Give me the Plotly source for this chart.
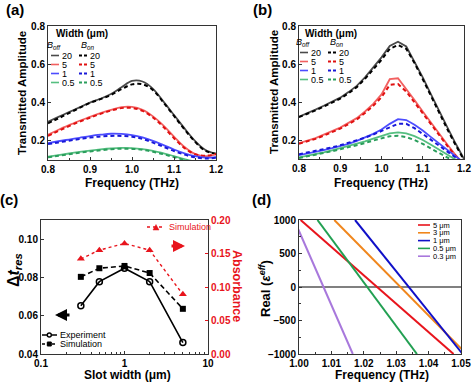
import plotly.graph_objects as go

W, H = 474, 384
FONT = "Liberation Sans, Arial, sans-serif"

# ---------------- data ----------------
# panel (a)
freq_a = [0.800, 0.825, 0.850, 0.875, 0.900, 0.925, 0.950, 0.975, 1.000,
          1.025, 1.050, 1.075, 1.100, 1.125, 1.150, 1.175, 1.200]
a_off_20 = [0.300, 0.325, 0.350, 0.375, 0.400, 0.420, 0.445, 0.480, 0.513,
            0.510, 0.472, 0.405, 0.335, 0.265, 0.200, 0.152, 0.132]
a_on_20 = [0.292, 0.318, 0.345, 0.372, 0.398, 0.418, 0.440, 0.470, 0.495,
           0.496, 0.465, 0.400, 0.330, 0.260, 0.195, 0.148, 0.132]
a_off_5 = [0.232, 0.258, 0.282, 0.305, 0.325, 0.345, 0.362, 0.376, 0.377,
           0.362, 0.328, 0.280, 0.222, 0.168, 0.132, 0.120, 0.130]
a_on_5 = [0.226, 0.252, 0.277, 0.300, 0.321, 0.341, 0.358, 0.371, 0.372,
          0.357, 0.322, 0.272, 0.214, 0.162, 0.130, 0.122, 0.132]
a_off_1 = [0.188, 0.198, 0.207, 0.216, 0.225, 0.232, 0.237, 0.236, 0.230,
           0.218, 0.200, 0.178, 0.155, 0.135, 0.120, 0.112, 0.115]
a_on_1 = [0.183, 0.192, 0.201, 0.209, 0.217, 0.223, 0.226, 0.226, 0.222,
          0.210, 0.191, 0.169, 0.147, 0.128, 0.114, 0.108, 0.112]
a_off_05 = [0.118, 0.126, 0.134, 0.142, 0.149, 0.155, 0.160, 0.163, 0.162,
            0.157, 0.148, 0.135, 0.120, 0.105, 0.092, 0.085, 0.080]
a_on_05 = [0.114, 0.122, 0.130, 0.138, 0.145, 0.151, 0.156, 0.159, 0.158,
           0.153, 0.143, 0.130, 0.115, 0.100, 0.088, 0.080, 0.075]

# panel (b)
freq_b = [0.80, 0.82, 0.84, 0.86, 0.88, 0.90, 0.92, 0.94, 0.96, 0.98, 1.00,
          1.02, 1.04, 1.06, 1.08, 1.10, 1.12, 1.14, 1.16, 1.18, 1.20]
b_off_20 = [0.323, 0.340, 0.360, 0.380, 0.400, 0.423, 0.452, 0.485, 0.530,
            0.580, 0.635, 0.695, 0.717, 0.692, 0.615, 0.530, 0.440, 0.350,
            0.265, 0.180, 0.100]
b_on_20 = [0.320, 0.337, 0.356, 0.376, 0.396, 0.418, 0.446, 0.478, 0.522,
           0.570, 0.622, 0.680, 0.700, 0.680, 0.605, 0.520, 0.430, 0.340,
           0.255, 0.172, 0.095]
b_off_5 = [0.183, 0.195, 0.210, 0.228, 0.245, 0.265, 0.290, 0.315, 0.350,
           0.390, 0.440, 0.520, 0.525, 0.470, 0.410, 0.350, 0.290, 0.230,
           0.175, 0.120, 0.070]
b_on_5 = [0.180, 0.192, 0.206, 0.223, 0.240, 0.260, 0.284, 0.308, 0.342,
          0.380, 0.425, 0.490, 0.495, 0.455, 0.398, 0.340, 0.280, 0.222,
          0.168, 0.115, 0.068]
b_off_1 = [0.120, 0.128, 0.137, 0.147, 0.157, 0.168, 0.180, 0.195, 0.212,
           0.232, 0.255, 0.285, 0.310, 0.305, 0.280, 0.250, 0.215, 0.180,
           0.145, 0.110, 0.080]
b_on_1 = [0.125, 0.133, 0.142, 0.151, 0.161, 0.172, 0.184, 0.197, 0.212,
          0.229, 0.248, 0.270, 0.285, 0.285, 0.262, 0.232, 0.200, 0.168,
          0.136, 0.104, 0.076]
b_off_05 = [0.108, 0.116, 0.125, 0.135, 0.146, 0.157, 0.168, 0.180, 0.193,
            0.207, 0.222, 0.235, 0.240, 0.235, 0.220, 0.200, 0.175, 0.148,
            0.120, 0.095, 0.070]
b_on_05 = [0.105, 0.113, 0.122, 0.131, 0.141, 0.151, 0.161, 0.172, 0.184,
           0.197, 0.210, 0.220, 0.222, 0.215, 0.200, 0.180, 0.155, 0.130,
           0.105, 0.082, 0.060]

# panel (c)
slot_width = [0.3, 0.5, 1, 2, 5]
dt_experiment = [0.0652, 0.0778, 0.0848, 0.0778, 0.0460]
dt_simulation = [0.0803, 0.0848, 0.0860, 0.0823, 0.0636]
absorbance_sim = [0.142, 0.155, 0.165, 0.155, 0.089]

# panel (d)
freq_d = {"5 μm": [1.0005, 1.0477], "3 μm": [1.0109, 1.0517],
          "1 μm": [1.0173, 1.0505], "0.5 μm": [1.0057, 1.0364],
          "0.3 μm": [0.9985, 1.0166]}
eps_d = [1000, -1000]

# ---------------- styles ----------------
col_solid = {"20": "#4a4a4a", "5": "#f26060", "1": "#4c4cff", "0.5": "#55bf80"}
col_dash = {"20": "#000000", "5": "#e01010", "1": "#1818d8", "0.5": "#2a9e5c"}
col_d = {"5 μm": "#e8141c", "3 μm": "#f0861c", "1 μm": "#1010c8",
         "0.5 μm": "#22a052", "0.3 μm": "#a878dc"}
RED = "#e8141c"


def px(x):
    return x / W


def py(y):
    return 1 - y / H


fig = go.Figure()

series_a = [("20", a_off_20, a_on_20), ("5", a_off_5, a_on_5),
            ("1", a_off_1, a_on_1), ("0.5", a_off_05, a_on_05)]
series_b = [("20", b_off_20, b_on_20), ("5", b_off_5, b_on_5),
            ("1", b_off_1, b_on_1), ("0.5", b_off_05, b_on_05)]

for k, off, on in series_a:
    fig.add_trace(go.Scatter(x=freq_a, y=off, mode="lines", xaxis="x", yaxis="y",
                             line=dict(color=col_solid[k], width=1.8, shape="spline"),
                             showlegend=False))
    fig.add_trace(go.Scatter(x=freq_a, y=on, mode="lines", xaxis="x", yaxis="y",
                             line=dict(color=col_dash[k], width=2, dash="4px,3px",
                                       shape="spline"),
                             showlegend=False))
for k, off, on in series_b:
    fig.add_trace(go.Scatter(x=freq_b, y=off, mode="lines", xaxis="x2", yaxis="y2",
                             line=dict(color=col_solid[k], width=1.8),
                             showlegend=False))
    fig.add_trace(go.Scatter(x=freq_b, y=on, mode="lines", xaxis="x2", yaxis="y2",
                             line=dict(color=col_dash[k], width=2, dash="4px,3px"),
                             showlegend=False))

# panel (c)
fig.add_trace(go.Scatter(x=slot_width, y=dt_experiment, mode="lines+markers",
                         xaxis="x3", yaxis="y3",
                         line=dict(color="black", width=1.6),
                         marker=dict(symbol="circle-open", size=6, color="black",
                                     line=dict(width=1.5)),
                         showlegend=False))
fig.add_trace(go.Scatter(x=slot_width, y=dt_simulation, mode="lines+markers",
                         xaxis="x3", yaxis="y3",
                         line=dict(color="black", width=1.6, dash="5px,3px"),
                         marker=dict(symbol="square", size=6, color="black"),
                         showlegend=False))
fig.add_trace(go.Scatter(x=slot_width, y=absorbance_sim, mode="lines+markers",
                         xaxis="x3", yaxis="y5",
                         line=dict(color=RED, width=1.4, dash="dot"),
                         marker=dict(symbol="triangle-up", size=7, color=RED),
                         showlegend=False))

# panel (d)
for k, xs in freq_d.items():
    fig.add_trace(go.Scatter(x=xs, y=eps_d, mode="lines", xaxis="x4", yaxis="y4",
                             line=dict(color=col_d[k], width=2),
                             showlegend=False))

tickfont = dict(family=FONT, size=10, color="black", weight="bold")
axcommon = dict(showline=True, linecolor="#333", linewidth=1, mirror=True,
                ticks="inside", ticklen=3, tickcolor="#333", showgrid=False,
                zeroline=False, tickfont=tickfont, automargin=False)
zero_pos = (py(354) + py(220)) / 2

fig.update_layout(
    template="none",
    width=W, height=H, margin=dict(l=0, r=0, t=0, b=0, pad=0),
    paper_bgcolor="white", plot_bgcolor="white",
    font=dict(family=FONT, color="black"),
    xaxis=dict(domain=[px(48), px(216)], anchor="y", range=[0.8, 1.2], dtick=0.1,
               tickformat=".1f", minor=dict(ticks="inside", ticklen=2, dtick=0.05),
               **axcommon),
    yaxis=dict(domain=[py(160), py(26)], anchor="x", range=[0.1, 0.8],
               tick0=0.2, dtick=0.2, tickformat=".1f", **axcommon),
    xaxis2=dict(domain=[px(299), px(464)], anchor="y2", range=[0.8, 1.2], dtick=0.1,
                tickformat=".1f", minor=dict(ticks="inside", ticklen=2, dtick=0.05),
                **axcommon),
    yaxis2=dict(domain=[py(159), py(26)], anchor="x2", range=[0.1, 0.8],
                tick0=0.2, dtick=0.2, tickformat=".1f", **axcommon),
    xaxis3=dict(domain=[px(41), px(208)], anchor="y3", type="log", range=[-1, 1],
                tickvals=[0.1, 1, 10], ticktext=["0.1", "1", "10"],
                minor=dict(ticks="inside", ticklen=2,
                           tickvals=[0.2, 0.3, 0.4, 0.5, 0.6, 0.7, 0.8, 0.9,
                                     2, 3, 4, 5, 6, 7, 8, 9]),
                **axcommon),
    yaxis3=dict(domain=[py(354), py(220)], anchor="x3", range=[0.04, 0.11],
                tick0=0.04, dtick=0.02, tickformat=".2f",
                **{**axcommon, "mirror": False}),
    yaxis5=dict(overlaying="y3", anchor="x3", side="right", range=[0, 0.2],
                domain=[py(354), py(220)],
                tick0=0, dtick=0.05, tickformat=".2f", automargin=False,
                showline=True, linecolor="#333", linewidth=1, ticks="inside",
                ticklen=3, tickcolor=RED, showgrid=False, zeroline=False,
                tickfont=dict(family=FONT, size=10, color=RED, weight="bold")),
    xaxis4=dict(domain=[px(299), px(461)], anchor="y4", range=[1.0, 1.05],
                dtick=0.01, tickformat=".2f",
                minor=dict(ticks="inside", ticklen=2, dtick=0.005), **axcommon),
    yaxis4=dict(domain=[py(354), py(220)], anchor="x4", range=[-1000, 1000],
                dtick=500, minor=dict(ticks="inside", ticklen=2, dtick=250),
                **{**axcommon, "zeroline": True}, zerolinecolor="#808080",
                zerolinewidth=1.5),
    xaxis5=dict(overlaying="x4", anchor="free", position=zero_pos,
                range=[1.0, 1.05], showline=False, ticks="outside", ticklen=3,
                tickcolor="#555", dtick=0.005, showticklabels=False,
                showgrid=False, zeroline=False, automargin=False),
    xaxis6=dict(overlaying="x4", anchor="free", position=zero_pos,
                range=[1.0, 1.05], showline=False, ticks="inside", ticklen=3,
                tickcolor="#555", dtick=0.005, showticklabels=False,
                showgrid=False, zeroline=False, automargin=False),
)

ann = []
shapes = []


def text(x, y, s, size, color="black", bold=True, angle=0, xanchor="center"):
    ann.append(dict(x=px(x), y=py(y), xref="paper", yref="paper", text=s,
                    showarrow=False, xanchor=xanchor, yanchor="middle",
                    textangle=angle,
                    font=dict(family=FONT, size=size, color=color,
                              weight="bold" if bold else "normal")))


def hline(x0, x1, y, color, width, dash="solid"):
    shapes.append(dict(type="line", xref="paper", yref="paper", x0=px(x0), x1=px(x1),
                       y0=py(y), y1=py(y), line=dict(color=color, width=width, dash=dash)))


# panel labels
text(15, 10, "(a)", 15)
text(262, 9, "(b)", 15)
text(9, 199, "(c)", 15)
text(261, 199, "(d)", 15)

# axis titles
text(132, 183, "Frequency (THz)", 12)
text(22, 93, "Transmitted Amplitude", 11.5, angle=-90)
text(381, 183, "Frequency (THz)", 12)
text(274, 92, "Transmitted Amplitude", 11.5, angle=-90)
text(128, 375, "Slot width (μm)", 12)
text(14, 270, "Δ<i>t</i><sub><i>res</i></sub>", 16, angle=-90)
text(237, 286, "Absorbance", 12.5, color=RED, angle=90)
text(382, 375, "Frequency (THz)", 12)
text(265, 289, "Real (<i>ε</i><sup><i>eff</i></sup>)", 13, angle=-90)

# legends (a) and (b)
for (x0, ytitle, yb, rows, keys) in [
        (51, 34, 45.5, [55.5, 64.5, 73.5, 82.5], ["20", "5", "1", "0.5"]),
        (300, 33, 43, [52.5, 61.5, 70.5, 79.5], ["20", "5", "1", "0.5"])]:
    text(x0 + 3, ytitle, "Width (μm)", 10, xanchor="left")
    text(x0 - 6, yb, "<i>B</i><sub><i>off</i></sub>", 9, bold=False, xanchor="left")
    text(x0 + 28, yb, "<i>B</i><sub><i>on</i></sub>", 9, bold=False, xanchor="left")
    for yy, k in zip(rows, keys):
        hline(x0, x0 + 8, yy, col_solid[k], 1.6)
        text(x0 + 9, yy, k, 9, bold=False, xanchor="left")
        hline(x0 + 28, x0 + 37, yy, col_dash[k], 2, dash="3px,2px")
        text(x0 + 37, yy, k, 9, bold=False, xanchor="left")

# legend (c)
hline(42, 57, 335, "black", 1.5)
shapes.append(dict(type="circle", xref="paper", yref="paper", x0=px(47.3), x1=px(51.3),
                   y0=py(337), y1=py(333), line=dict(color="black", width=1.4),
                   fillcolor="white"))
text(58, 335, "Experiment", 9, bold=False, xanchor="left")
hline(42, 57, 344, "black", 1.5, dash="3px,2px")
shapes.append(dict(type="rect", xref="paper", yref="paper", x0=px(47.3), x1=px(51.3),
                   y0=py(346), y1=py(342), line=dict(color="black", width=1),
                   fillcolor="black"))
text(58, 344, "Simulation", 9, bold=False, xanchor="left")
hline(147, 165, 227, RED, 1.4, dash="dot")
shapes.append(dict(type="path", xref="paper", yref="paper",
                   path=f"M {px(153)} {py(230)} L {px(159)} {py(230)} L {px(156)} {py(224.5)} Z",
                   line=dict(color=RED, width=0.5), fillcolor=RED))
text(167, 227, "Simulation", 9, color=RED, bold=False, xanchor="left")

# arrows (c)
ann.append(dict(x=px(55), y=py(315), xref="paper", yref="paper", ax=16, ay=0,
                axref="pixel", ayref="pixel", showarrow=True, arrowhead=2,
                arrowsize=0.8, arrowwidth=3, arrowcolor="black", text=""))
ann.append(dict(x=px(185), y=py(246), xref="paper", yref="paper", ax=-15, ay=0,
                axref="pixel", ayref="pixel", showarrow=True, arrowhead=2,
                arrowsize=0.8, arrowwidth=3, arrowcolor=RED, text=""))

# legend (d)
for yy, k in zip([225, 232.8, 240.6, 248.4, 256.2], list(freq_d.keys())):
    hline(418, 430, yy, col_d[k], 1.6)
    text(431, yy, k, 7.5, bold=False, xanchor="left")

fig.update_layout(annotations=ann, shapes=shapes)
fig.write_html("out.html", config={"displayModeBar": False},
               post_script="document.body.style.margin='0';"
                           "document.body.style.overflow='hidden';")
